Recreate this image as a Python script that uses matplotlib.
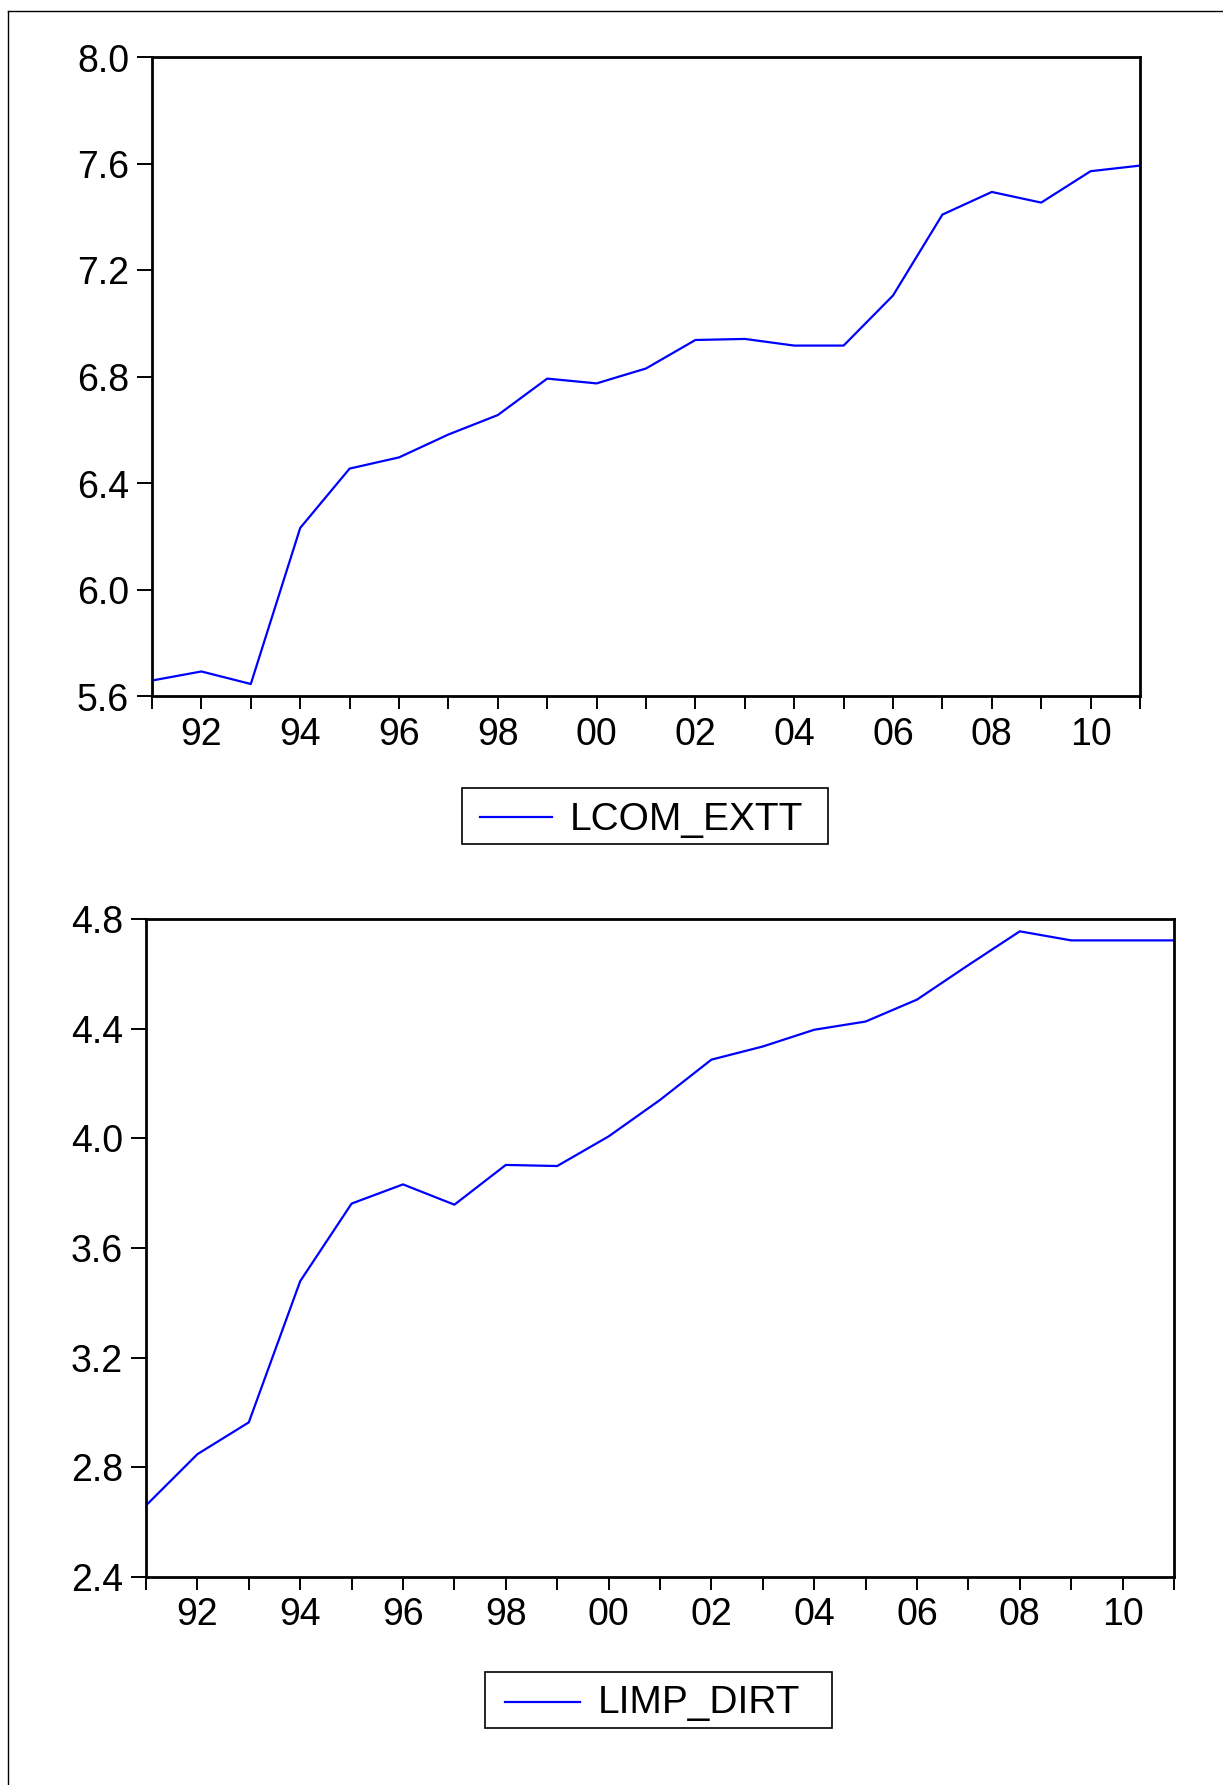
import matplotlib
matplotlib.use("Agg")
import matplotlib.pyplot as plt
from matplotlib.lines import Line2D
from matplotlib.patches import Rectangle
from matplotlib.ticker import FixedLocator, FixedFormatter

# ---- data ----
years = list(range(1991, 2012))
lcom_extt = [5.66, 5.694, 5.647, 6.233, 6.456, 6.498, 6.584, 6.657, 6.794, 6.776,
             6.832, 6.939, 6.943, 6.918, 6.918, 7.106, 7.410, 7.495, 7.455, 7.573, 7.594]
limp_dirt = [2.661, 2.848, 2.964, 3.479, 3.762, 3.832, 3.758, 3.903, 3.899, 4.007,
             4.140, 4.287, 4.335, 4.396, 4.426, 4.506, 4.632, 4.755, 4.722, 4.722, 4.722]
top_yticks = [5.6, 6.0, 6.4, 6.8, 7.2, 7.6, 8.0]
bot_yticks = [2.4, 2.8, 3.2, 3.6, 4.0, 4.4, 4.8]
xtick_labels = ["" if y % 2 else f"{y % 100:02d}" for y in years]
series_names = ["LCOM_EXTT", "LIMP_DIRT"]

plt.rcParams['font.family'] = ['Liberation Sans', 'DejaVu Sans']

W, H = 1223, 1785
fig = plt.figure(figsize=(W / 100, H / 100), dpi=100)
fig.patch.set_facecolor("white")

def fx(x):
    return x / W

def fy(y):
    return 1 - y / H

def px_axes(left, top, right, bottom):
    return fig.add_axes([left / W, 1 - bottom / H, (right - left) / W, (bottom - top) / H])

def style(ax, yticks, ylim):
    ax.set_xlim(1991, 2011)
    ax.set_ylim(*ylim)
    ax.xaxis.set_major_locator(FixedLocator(years))
    ax.xaxis.set_major_formatter(FixedFormatter(xtick_labels))
    ax.set_yticks(yticks)
    ax.set_yticklabels([f"{v:.1f}" for v in yticks])
    for s in ax.spines.values():
        s.set_linewidth(2.0)
        s.set_color("black")
    ax.tick_params(axis="x", direction="out", length=9.5, width=1.4, pad=5,
                   labelsize=27, colors="black", top=False)
    ax.tick_params(axis="y", direction="out", length=10.5, width=1.4, pad=6,
                   labelsize=27, colors="black", right=False)

ax1 = px_axes(152, 57.5, 1140, 696.5)
ax1.plot(years, lcom_extt, color="#0000ff", lw=1.6, label=series_names[0])
style(ax1, top_yticks, (5.6, 8.0))

ax2 = px_axes(146, 919, 1174, 1577)
ax2.plot(years, limp_dirt, color="#0000ff", lw=1.6, label=series_names[1])
style(ax2, bot_yticks, (2.4, 4.8))

# legends (boxed key below each panel)
legend_specs = [
    # box left, top, right, bottom, line x0, x1, line y, text x, text baseline
    (462, 788, 828, 844, 480, 552, 817, 570, 830),
    (485, 1672, 832, 1728, 505, 580, 1702, 598, 1713),
]
for name, (bl, bt, br, bb, lx0, lx1, ly, tx, tb) in zip(series_names, legend_specs):
    fig.add_artist(Rectangle((fx(bl), fy(bb)), fx(br - bl), (bb - bt) / H,
                             transform=fig.transFigure, facecolor="white",
                             edgecolor="black", lw=1.2))
    fig.add_artist(Line2D([fx(lx0), fx(lx1)], [fy(ly), fy(ly)],
                          transform=fig.transFigure, color="#0000ff", lw=1.6))
    fig.text(fx(tx), fy(tb), name, fontsize=28, ha="left", va="baseline", color="black")

# outer frame (top and left edges)
fig.add_artist(Line2D([8 / W, 1.0], [1 - 11 / H, 1 - 11 / H], transform=fig.transFigure,
                      color="black", lw=1.0))
fig.add_artist(Line2D([8 / W, 8 / W], [0, 1 - 11 / H], transform=fig.transFigure,
                      color="black", lw=1.0))

fig.savefig("out.png", dpi=100, facecolor="white")
